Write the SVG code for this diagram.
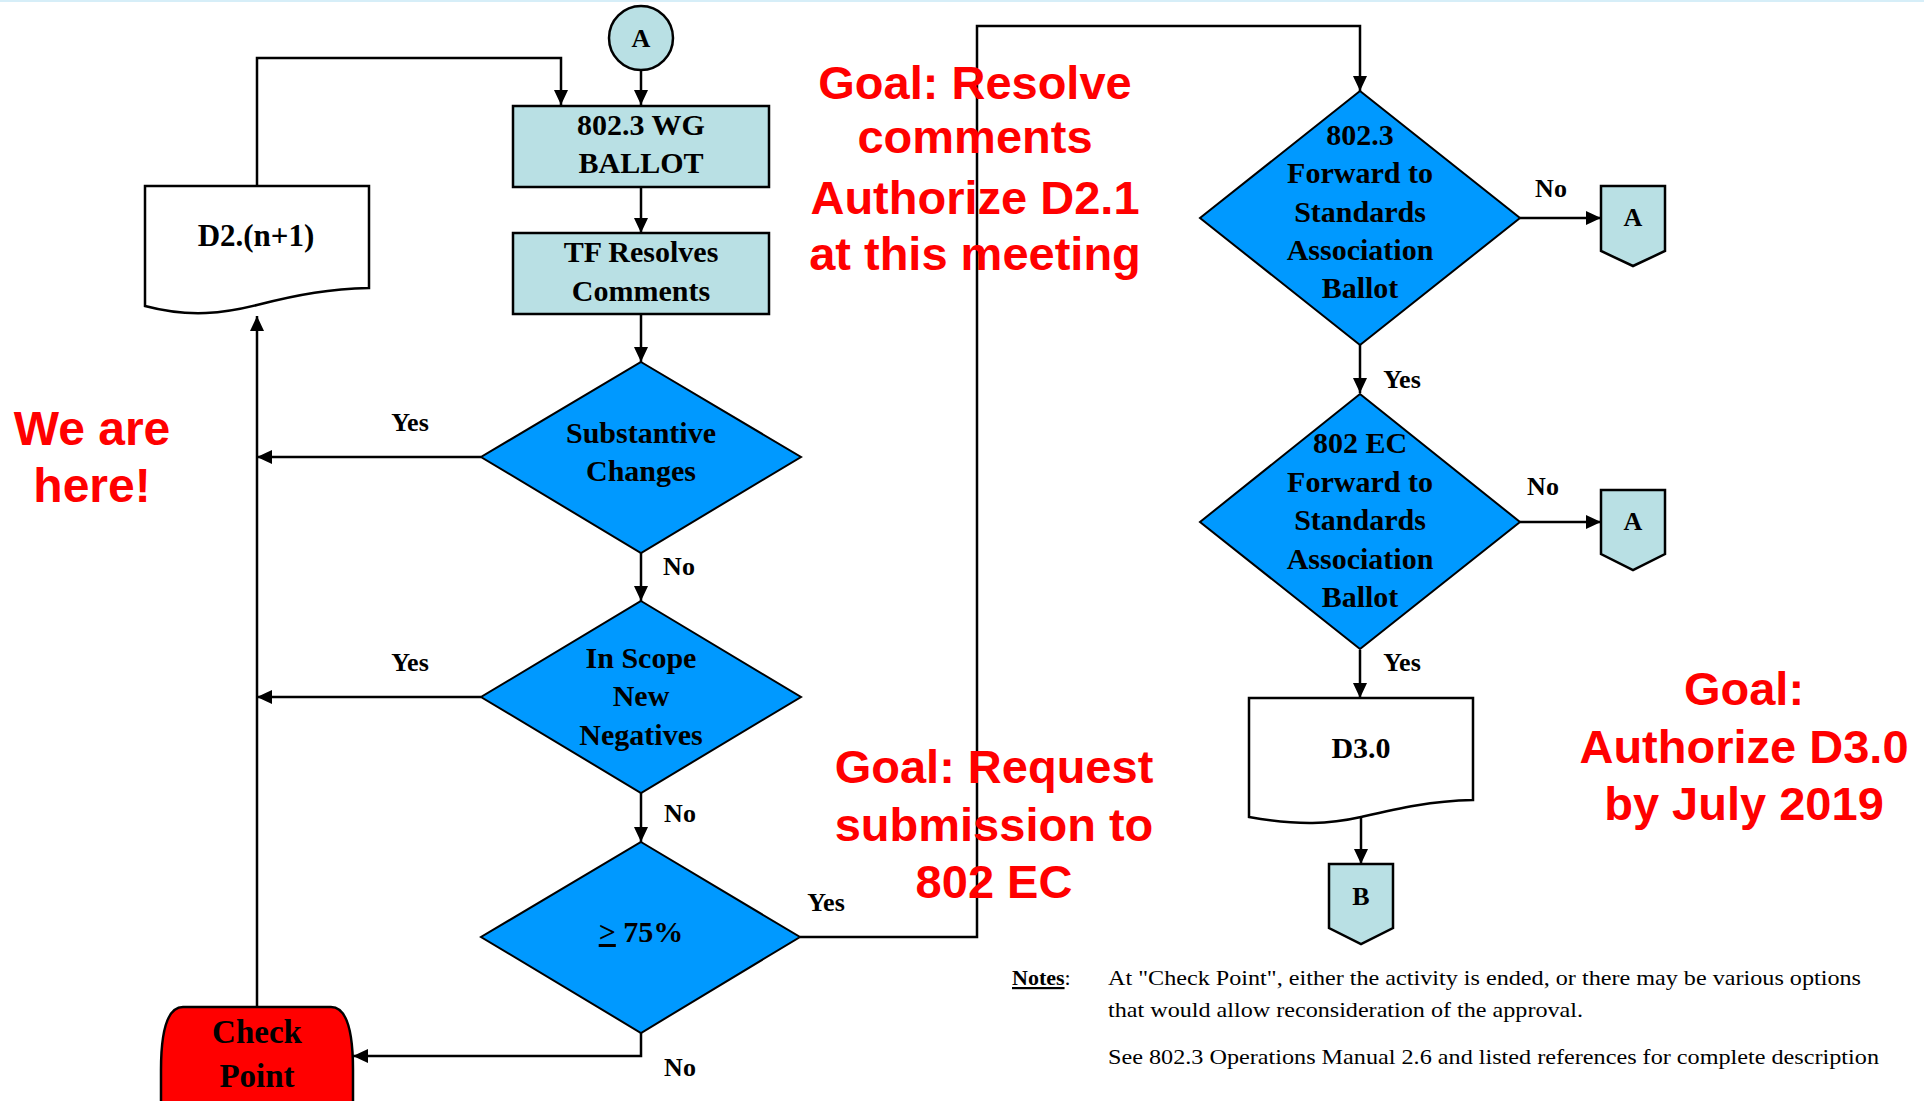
<svg xmlns="http://www.w3.org/2000/svg" width="1924" height="1101" viewBox="0 0 1924 1101">
<style>
.box{fill:#b9e0e4;stroke:#000;stroke-width:2.5}
.dia{fill:#0099ff;stroke:#000;stroke-width:2}
.doc{fill:#fff;stroke:#000;stroke-width:2.5}
.ln{fill:none;stroke:#000;stroke-width:2.5}
.nt{font-family:"Liberation Serif",serif;font-weight:bold;font-size:30px;text-anchor:middle;fill:#000}
.lb{font-family:"Liberation Serif",serif;font-weight:bold;font-size:26px;text-anchor:middle;fill:#000}
.red{font-family:"Liberation Sans",Arial,sans-serif;font-weight:bold;font-size:47px;text-anchor:middle;fill:#ff0000}
.note{font-family:"Liberation Serif",serif;font-size:22px;fill:#000}
</style>
<defs>
<marker id="ah" markerUnits="userSpaceOnUse" markerWidth="16" markerHeight="14" refX="15" refY="7" orient="auto">
<path d="M0,0 L15,7 L0,14 Z" fill="#000"/>
</marker>
</defs>
<rect x="0" y="0" width="1924" height="2" fill="#d6eef8"/>

<g id="connectors">
<path class="ln" d="M641,70 V105" marker-end="url(#ah)"/>
<path class="ln" d="M257,186 V58 H561 V105" marker-end="url(#ah)"/>
<path class="ln" d="M641,187 V233" marker-end="url(#ah)"/>
<path class="ln" d="M641,314 V362" marker-end="url(#ah)"/>
<path class="ln" d="M481,457 H257" marker-end="url(#ah)"/>
<path class="ln" d="M641,553 V601" marker-end="url(#ah)"/>
<path class="ln" d="M481,697 H257" marker-end="url(#ah)"/>
<path class="ln" d="M641,793 V842" marker-end="url(#ah)"/>
<path class="ln" d="M641,1033 V1056 H353" marker-end="url(#ah)"/>
<path class="ln" d="M257,1007 V316" marker-end="url(#ah)"/>
<path class="ln" d="M800,937 H977 V26 H1360 V91" marker-end="url(#ah)"/>
<path class="ln" d="M1520,218 H1601" marker-end="url(#ah)"/>
<path class="ln" d="M1360,345 V393" marker-end="url(#ah)"/>
<path class="ln" d="M1520,522 H1601" marker-end="url(#ah)"/>
<path class="ln" d="M1360,650 V698" marker-end="url(#ah)"/>
<path class="ln" d="M1361,817 V864" marker-end="url(#ah)"/>
<text class="lb" x="410" y="431">Yes</text>
<text class="lb" x="679" y="575">No</text>
<text class="lb" x="410" y="671">Yes</text>
<text class="lb" x="680" y="822">No</text>
<text class="lb" x="826" y="911">Yes</text>
<text class="lb" x="680" y="1076">No</text>
<text class="lb" x="1551" y="197">No</text>
<text class="lb" x="1402" y="388">Yes</text>
<text class="lb" x="1543" y="495">No</text>
<text class="lb" x="1402" y="671">Yes</text>
</g>

<g id="connA">
<ellipse cx="641" cy="38" rx="32" ry="32" fill="#b9e0e4" stroke="#000" stroke-width="2.5"/>
<text class="nt" x="641" y="47" style="font-size:26px">A</text>
</g>

<g id="wgBallot">
<rect class="box" x="513" y="106" width="256" height="81"/>
<text class="nt" x="641" y="135">802.3 WG</text>
<text class="nt" x="641" y="173">BALLOT</text>
</g>

<g id="tfResolves">
<rect class="box" x="513" y="233" width="256" height="81"/>
<text class="nt" x="641" y="262">TF Resolves</text>
<text class="nt" x="641" y="301">Comments</text>
</g>

<g id="d2doc">
<path class="doc" d="M145,186 H369 V288 C330,289 300,294 257,305 C225,313 190,318 145,306 Z"/>
<text class="nt" x="256" y="246" style="font-size:31px">D2.(n+1)</text>
</g>

<g id="substantive">
<polygon class="dia" points="641,362 801,457 641,553 481,457"/>
<text class="nt" x="641" y="443">Substantive</text>
<text class="nt" x="641" y="481">Changes</text>
</g>

<g id="inScope">
<polygon class="dia" points="641,601 801,697 641,793 481,697"/>
<text class="nt" x="641" y="668">In Scope</text>
<text class="nt" x="641" y="706">New</text>
<text class="nt" x="641" y="745">Negatives</text>
</g>

<g id="pct75">
<polygon class="dia" points="641,842 800,937 641,1033 481,937"/>
<text class="nt" x="641" y="942"><tspan text-decoration="underline">&gt;</tspan> 75%</text>
</g>

<g id="checkPoint">
<path d="M183,1007 H331 C346,1007 353,1030 353,1070 V1120 H161 V1070 C161,1030 168,1007 183,1007 Z" fill="#ff0000" stroke="#000" stroke-width="2.5"/>
<text class="nt" x="257" y="1043" style="font-size:33px">Check</text>
<text class="nt" x="257" y="1087" style="font-size:33px">Point</text>
</g>

<g id="fwdSA">
<polygon class="dia" points="1360,91 1520,218 1360,345 1200,218"/>
<text class="nt" x="1360" y="145">802.3</text>
<text class="nt" x="1360" y="183">Forward to</text>
<text class="nt" x="1360" y="222">Standards</text>
<text class="nt" x="1360" y="260">Association</text>
<text class="nt" x="1360" y="298">Ballot</text>
</g>

<g id="offA1">
<polygon class="box" points="1601,186 1665,186 1665,251 1633,266 1601,251"/>
<text class="nt" x="1633" y="226" style="font-size:26px">A</text>
</g>

<g id="ecFwd">
<polygon class="dia" points="1360,394 1520,522 1360,649 1200,522"/>
<text class="nt" x="1360" y="453">802 EC</text>
<text class="nt" x="1360" y="492">Forward to</text>
<text class="nt" x="1360" y="530">Standards</text>
<text class="nt" x="1360" y="569">Association</text>
<text class="nt" x="1360" y="607">Ballot</text>
</g>

<g id="offA2">
<polygon class="box" points="1601,490 1665,490 1665,554 1633,570 1601,554"/>
<text class="nt" x="1633" y="530" style="font-size:26px">A</text>
</g>

<g id="d3doc">
<path class="doc" d="M1249,698 H1473 V800 C1430,801 1400,808 1361,817 C1330,824 1300,826 1249,817 Z"/>
<text class="nt" x="1361" y="758">D3.0</text>
</g>

<g id="offB">
<polygon class="box" points="1329,864 1393,864 1393,928 1361,944 1329,928"/>
<text class="nt" x="1361" y="905" style="font-size:26px">B</text>
</g>

<g id="goals">
<text class="red" x="92" y="445" style="font-size:48px">We are</text>
<text class="red" x="92" y="502" style="font-size:48px">here!</text>
<text class="red" x="975" y="99">Goal: Resolve</text>
<text class="red" x="975" y="153">comments</text>
<text class="red" x="975" y="214">Authorize D2.1</text>
<text class="red" x="975" y="270">at this meeting</text>
<text class="red" x="994" y="783">Goal: Request</text>
<text class="red" x="994" y="841">submission to</text>
<text class="red" x="994" y="898">802 EC</text>
<text class="red" x="1744" y="705">Goal:</text>
<text class="red" x="1744" y="763">Authorize D3.0</text>
<text class="red" x="1744" y="820">by July 2019</text>
</g>

<g id="notes">
<text class="note" x="1012" y="985"><tspan text-decoration="underline" font-weight="bold">Notes</tspan>:</text>
<text class="note" x="1108" y="985" textLength="753" lengthAdjust="spacingAndGlyphs">At "Check Point", either the activity is ended, or there may be various options</text>
<text class="note" x="1108" y="1017" textLength="475" lengthAdjust="spacingAndGlyphs">that would allow reconsideration of the approval.</text>
<text class="note" x="1108" y="1064" textLength="771" lengthAdjust="spacingAndGlyphs">See 802.3 Operations Manual 2.6 and listed references for complete description</text>
</g>
</svg>
